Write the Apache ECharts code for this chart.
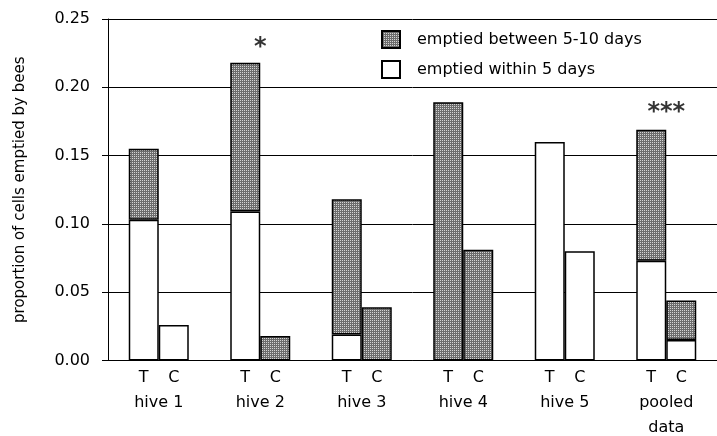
<!DOCTYPE html>
<html>
<head>
<meta charset="utf-8">
<script src="https://cdn.jsdelivr.net/npm/echarts@6/dist/echarts.min.js"></script>
<style>
  html, body { margin: 0; padding: 0; background: #fff; }
  #chart { width: 717px; height: 436px; }
</style>
</head>
<body>
<div id="chart"></div>
<script>
// values
const categories = ['hive 1', 'hive 2', 'hive 3', 'hive 4', 'hive 5', 'pooled\ndata'];
const withinT = [0.103, 0.109, 0.019, 0, 0.160, 0.073];
const betweenT = [0.052, 0.109, 0.099, 0.189, 0, 0.096];
const withinC = [0.026, 0, 0, 0, 0.080, 0.015];
const betweenC = [0, 0.018, 0.039, 0.081, 0, 0.029];
const stars = ['', '*', '', '', '', '***'];
const starY = [null, 0.229, null, null, null, 0.181];

const FONT = 'DejaVu Sans';
const WITHIN = 'emptied within 5 days';
const BETWEEN = 'emptied between 5-10 days';

// stipple fill like the old mac grey pattern
const pc = document.createElement('canvas');
pc.width = 2;
pc.height = 2;
const pctx = pc.getContext('2d');
pctx.fillStyle = '#6c6c6c';
pctx.fillRect(0, 0, 2, 2);
pctx.fillStyle = '#d4d4d4';
pctx.fillRect(0, 0, 1, 1);
const grey = { image: pc, repeat: 'repeat' };

const nz = arr => arr.map(v => (v ? v : null));

function bar(name, stack, data, fill) {
  return {
    name: name,
    type: 'bar',
    stack: stack,
    data: nz(data),
    barWidth: 30,
    barGap: '0%',
    itemStyle: { color: fill, borderColor: '#000', borderWidth: 1.5 },
  };
}

const chart = echarts.init(document.getElementById('chart'));
chart.setOption({
  animation: false,
  textStyle: { fontFamily: FONT },
  grid: { left: 108, right: -9, top: 19, bottom: 74 },
  legend: {
    data: [BETWEEN, WITHIN],
    orient: 'vertical',
    left: 381,
    top: 30,
    padding: 0,
    itemWidth: 18,
    itemHeight: 17,
    itemGap: 11,
    icon: 'rect',
    textStyle: { fontFamily: FONT, fontSize: 16, color: '#000', padding: [0, 0, 0, 12] },
  },
  xAxis: {
    type: 'category',
    data: categories,
    axisLine: { lineStyle: { color: '#000', width: 1 } },
    axisTick: { show: false },
    axisLabel: {
      margin: 5,
      interval: 0,
      formatter: v => '{t|T}{c|C}\n' + v.split('\n').map(s => '{n|' + s + '}').join('\n'),
      rich: {
        t: { width: 30, align: 'center', fontSize: 16, lineHeight: 25, color: '#000', fontFamily: FONT },
        c: { width: 30, align: 'center', fontSize: 16, lineHeight: 25, color: '#000', fontFamily: FONT },
        n: { fontSize: 16, lineHeight: 25, color: '#000', fontFamily: FONT },
      },
    },
  },
  yAxis: {
    type: 'value',
    min: 0,
    max: 0.25,
    interval: 0.05,
    name: 'proportion of cells emptied by bees',
    nameLocation: 'middle',
    nameGap: 80,
    nameTextStyle: { fontSize: 15, color: '#000', fontFamily: FONT },
    axisLine: { show: true, lineStyle: { color: '#000', width: 1 } },
    axisTick: { show: true, length: 6, lineStyle: { color: '#000' } },
    axisLabel: { margin: 18, fontSize: 16, color: '#000', formatter: v => v.toFixed(2) },
    splitLine: { lineStyle: { color: '#000', width: 1 } },
  },
  series: [
    bar(WITHIN, 'T', withinT, '#fff'),
    bar(BETWEEN, 'T', betweenT, grey),
    bar(WITHIN, 'C', withinC, '#fff'),
    bar(BETWEEN, 'C', betweenC, grey),
    {
      type: 'scatter',
      data: starY,
      symbolSize: 1,
      itemStyle: { color: 'transparent' },
      label: {
        show: true,
        position: 'inside',
        formatter: p => stars[p.dataIndex],
        fontSize: 24,
        fontWeight: 'bold',
        color: '#000',
        fontFamily: FONT,
      },
      z: 5,
    },
  ],
});
</script>
</body>
</html>
